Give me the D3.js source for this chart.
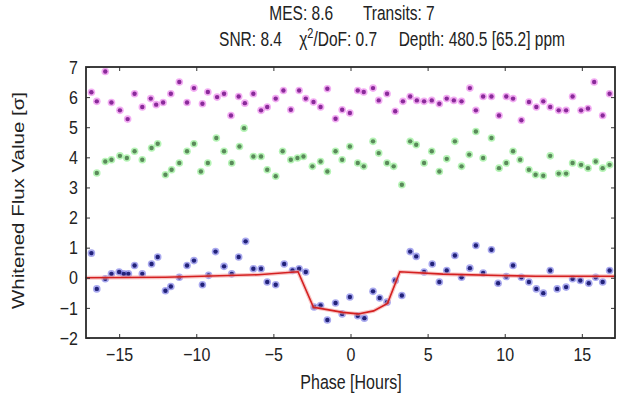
<!DOCTYPE html>
<html>
<head>
<meta charset="utf-8">
<script src="https://cdn.jsdelivr.net/npm/d3@7"></script>
<style>
  html, body { margin: 0; padding: 0; background: #fff; }
  svg { display: block; }
  text { font-family: "Liberation Sans", Arial, Helvetica, sans-serif; fill: #222; }
</style>
</head>
<body>
<svg id="chart" width="635" height="401"></svg>
<script>
// ---- data ----
const xTicks = [-15, -10, -5, 0, 5, 10, 15];
const yTicks = [-2, -1, 0, 1, 2, 3, 4, 5, 6, 7];

const blueX = [-16.8,-16.45,-15.9,-15.5,-15.0,-14.7,-14.4,-14.0,-13.5,-12.9,-12.5,-12.0,-11.65,-11.1,-10.6,-10.15,-9.6,-9.2,-8.75,-8.2,-7.7,-7.25,-6.8,-6.3,-5.8,-5.4,-4.85,-4.3,-3.76,-3.33,-2.9,-2.36,-1.94,-1.5,-0.97,-0.54,-0.04,0.47,0.9,1.46,1.89,2.37,2.9,3.33,3.87,4.26,4.77,5.3,5.76,6.24,6.77,7.2,7.74,8.13,8.6,9.14,9.57,10.1,10.54,11.08,11.57,12.05,12.5,12.95,13.4,13.98,14.4,14.9,15.45,15.9,16.35,16.8];
const blueY = [0.82,-0.37,-0.03,0.13,0.19,0.13,0.13,0.41,0.13,0.46,0.69,-0.43,-0.29,0.02,0.41,0.57,-0.23,0.08,0.87,0.38,0.13,0.69,1.21,0.3,0.3,-0.14,-0.23,0.46,0.24,0.3,0.19,-0.97,-0.92,-1.4,-0.84,-1.2,-0.64,-1.26,-1.34,-0.45,-0.67,-0.81,-0.09,-0.59,0.87,0.71,0.19,0.46,-0.14,0.24,0.74,0.02,0.32,1.07,0.16,0.93,-0.18,0.04,0.41,0.02,-0.14,-0.37,-0.51,0.24,-0.37,-0.31,-0.03,-0.09,-0.18,0.02,-0.14,0.24];

const greenX = [-16.45,-15.9,-15.5,-14.95,-14.5,-14.0,-13.5,-12.9,-12.5,-12.0,-11.6,-11.1,-10.6,-10.15,-9.7,-9.25,-8.7,-8.2,-7.7,-7.2,-6.9,-6.3,-5.8,-5.4,-4.85,-4.4,-3.87,-3.44,-3.05,-2.47,-1.94,-1.5,-0.97,-0.54,-0.04,0.47,0.86,1.46,1.83,2.37,2.8,3.33,3.87,4.26,4.77,5.27,5.76,6.24,6.77,7.2,7.7,8.13,8.6,9.14,9.63,10.1,10.54,11.0,11.57,12.0,12.5,12.95,13.5,13.98,14.4,14.95,15.4,15.9,16.35,16.8];
const greenY = [3.48,3.86,3.92,4.05,3.98,4.2,3.92,4.31,4.45,3.42,3.59,3.81,4.2,4.45,3.53,3.81,4.64,4.2,3.81,4.36,4.97,4.03,4.03,3.59,3.37,4.2,3.92,3.98,4.03,3.7,3.86,3.53,4.2,3.92,4.36,3.81,3.7,4.53,4.14,3.81,3.7,3.09,4.53,4.42,3.81,4.2,3.53,3.95,4.53,3.7,4.09,4.86,3.98,4.64,3.64,3.81,4.2,3.92,3.59,3.42,3.39,4.05,3.46,3.46,3.81,3.75,3.64,3.86,3.64,3.75];

const magentaX = [-16.8,-16.45,-15.9,-15.5,-14.95,-14.45,-14.0,-13.5,-12.95,-12.6,-12.15,-11.65,-11.1,-10.6,-10.15,-9.6,-9.25,-8.65,-8.2,-7.75,-7.25,-6.85,-6.3,-5.8,-5.4,-4.85,-4.35,-3.87,-3.33,-2.9,-2.4,-1.94,-1.5,-0.97,-0.54,-0.04,0.47,0.86,1.46,1.83,2.37,2.9,3.4,3.87,4.3,4.77,5.27,5.76,6.24,6.7,7.2,7.74,8.13,8.6,9.14,9.63,10.1,10.54,11.08,11.57,12.05,12.5,12.95,13.5,13.98,14.4,14.95,15.4,15.8,16.35,16.8];
const magentaY = [6.16,5.86,6.85,5.82,5.56,5.27,6.11,5.67,5.95,5.75,5.82,6.11,6.5,5.82,6.3,5.78,6.17,6.0,6.11,5.39,6.02,5.8,6.11,5.56,5.67,5.95,6.22,5.58,6.22,5.95,5.84,5.67,6.28,5.28,5.58,5.47,6.22,6.17,6.3,5.89,6.11,5.53,5.86,6.02,5.89,5.86,5.89,5.78,5.95,5.89,5.86,6.3,5.56,6.02,6.02,5.39,6.02,5.95,5.23,5.84,5.67,5.86,5.67,5.56,5.56,6.02,5.56,5.62,6.5,5.39,6.11];

const modelX = [-17.2,-12,-6,-3.4,-2.4,-1.6,-0.5,0.5,1.5,2.4,3.2,6,12,17.2];
const modelY = [0.0,0.02,0.1,0.2,-0.98,-1.05,-1.15,-1.2,-1.1,-0.85,0.2,0.12,0.05,0.05];

(function () {
const svg = d3.select("#chart");
const pLeft = 86, pRight = 615, pTop = 67, pBottom = 338;
const x = d3.scaleLinear().domain([-17.15, 17.15]).range([pLeft, pRight]);
const y = d3.scaleLinear().domain([-2, 7]).range([pBottom, pTop]);
const sy = 1.28;   // the reference text is vertically stretched

function drawSeries(xs, ys, halo, core) {
  const g = svg.append("g");
  const pts = xs.map((v, i) => [v, ys[i]]);
  g.selectAll("circle.h").data(pts).join("circle").attr("class", "h")
    .attr("cx", d => x(d[0])).attr("cy", d => y(d[1]))
    .attr("r", 3.8).attr("fill", halo).attr("opacity", 0.55);
  g.selectAll("circle.c").data(pts).join("circle").attr("class", "c")
    .attr("cx", d => x(d[0])).attr("cy", d => y(d[1]))
    .attr("r", 2.2).attr("fill", core);
}
drawSeries(magentaX, magentaY, "#e868e8", "#8a2a9a");
drawSeries(greenX, greenY, "#78ea78", "#5a8a5a");
drawSeries(blueX, blueY, "#6060e0", "#22227a");

const line = d3.line().x(d => x(d[0])).y(d => y(d[1]));
const model = modelX.map((v, i) => [v, modelY[i]]);
svg.append("path").datum(model).attr("d", line)
  .attr("fill", "none").attr("stroke", "#f4a0a0").attr("stroke-width", 4).attr("opacity", 0.6);
svg.append("path").datum(model).attr("d", line)
  .attr("fill", "none").attr("stroke", "#d42020").attr("stroke-width", 1.6);

const tl = 4;
const fmt = d => d < 0 ? "\u2212" + Math.abs(d) : String(d);
const axB = svg.append("g").attr("transform", `translate(0,${pBottom})`)
  .call(d3.axisBottom(x).tickValues(xTicks).tickSizeInner(-tl).tickSizeOuter(0).tickFormat(fmt));
const axT = svg.append("g").attr("transform", `translate(0,${pTop})`)
  .call(d3.axisTop(x).tickValues(xTicks).tickSizeInner(-tl).tickSizeOuter(0).tickFormat(""));
const axL = svg.append("g").attr("transform", `translate(${pLeft},0)`)
  .call(d3.axisLeft(y).tickValues(yTicks).tickSizeInner(-tl).tickSizeOuter(0).tickPadding(8).tickFormat(fmt));
const axR = svg.append("g").attr("transform", `translate(${pRight},0)`)
  .call(d3.axisRight(y).tickValues(yTicks).tickSizeInner(-tl).tickSizeOuter(0).tickFormat(""));
[axB, axT, axL, axR].forEach(a => {
  a.select(".domain").remove();
  a.selectAll(".tick line").attr("stroke", "#333").attr("stroke-width", 1);
  a.selectAll(".tick text").attr("font-size", 16).attr("fill", "#222")
    .attr("font-family", "'Liberation Sans', Arial, sans-serif");
});
axB.selectAll(".tick text").attr("y", 0).attr("dy", "0.72em")
  .attr("transform", `translate(0,9) scale(1,${sy - 0.08})`);
axL.selectAll(".tick text").attr("transform", `scale(1,${sy - 0.08})`);

svg.append("rect").attr("x", pLeft).attr("y", pTop).attr("width", pRight - pLeft).attr("height", pBottom - pTop)
  .attr("fill", "none").attr("stroke", "#2a2a2a").attr("stroke-width", 1.8);

svg.append("text").attr("transform", `translate(351,389) scale(1,${sy})`).attr("text-anchor", "middle")
  .attr("font-size", 16).text("Phase [Hours]");
svg.append("text").attr("transform", `translate(24,${(pTop + pBottom) / 2 - 2}) scale(1,${sy}) rotate(-90)`)
  .attr("text-anchor", "middle").attr("font-size", 16).text("Whitened Flux Value [\u03c3]");

svg.append("text").attr("transform", `translate(352,20) scale(1,${sy})`).attr("text-anchor", "middle").attr("font-size", 15.5)
  .attr("xml:space", "preserve").text("MES: 8.6       Transits: 7");
const t2 = svg.append("text").attr("transform", `translate(392,46) scale(1,${sy})`).attr("text-anchor", "middle").attr("font-size", 15.5)
  .attr("xml:space", "preserve");
t2.append("tspan").text("SNR: 8.4    \u03c7");
t2.append("tspan").attr("dy", -6).attr("font-size", 11).text("2");
t2.append("tspan").attr("dy", 6).text("/DoF: 0.7     Depth: 480.5 [65.2] ppm");
})();
</script>
</body>
</html>
